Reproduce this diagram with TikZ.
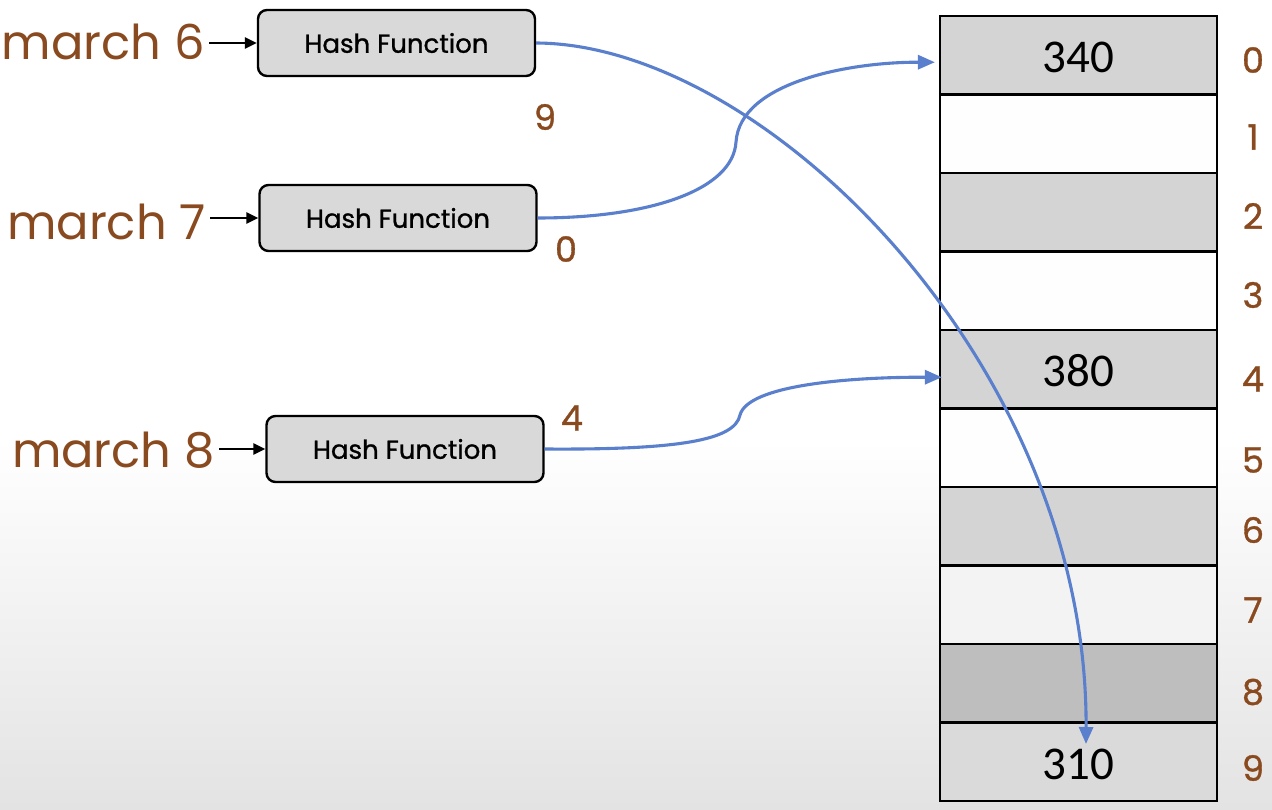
\documentclass[tikz,border=0pt]{standalone}
\usepackage{fontspec}
\newfontfamily\pop{Poppins}
\newfontfamily\popb{Poppins}[FakeBold=1]
\newfontfamily\carl{Carlito}
\usetikzlibrary{arrows.meta}
\definecolor{brn}{HTML}{8A4A1F}
\definecolor{lnk}{HTML}{5A7FCC}
\definecolor{cg}{HTML}{D4D4D4}
\definecolor{cw}{HTML}{FEFEFE}
\definecolor{cw7}{HTML}{F3F3F3}
\definecolor{cg8}{HTML}{BEBEBE}
\definecolor{cg9}{HTML}{DADADA}
\definecolor{hfill}{HTML}{D9D9D9}
\tikzset{
  hashbox/.style={draw=black, line width=2.4pt, fill=hfill, rounded corners=9pt,
    minimum width=277pt, minimum height=66pt, inner sep=0pt,
    font=\popb\fontsize{26}{26}\selectfont},
  inlabel/.style={text=brn, inner sep=4pt, font=\pop\fontsize{48}{48}\selectfont},
  cell/.style={draw=black, line width=2.2pt, minimum width=277pt, minimum height=78.5pt,
    inner sep=0pt, text height=35pt, text depth=0pt, font=\carl\fontsize{47}{47}\selectfont},
  idx/.style={text=brn, inner sep=0pt, font=\popb\fontsize{35}{35}\selectfont},
  hv/.style={text=brn, inner sep=0pt, font=\popb\fontsize{35}{35}\selectfont},
  inarr/.style={draw=black, line width=2.6pt, -{Triangle[length=12pt,width=11pt]}},
  conn/.style={draw=lnk, line width=3.1pt, -{Triangle[length=17pt,width=14pt]}}
}
\begin{document}
\begin{tikzpicture}[x=1pt,y=-1pt]
\useasboundingbox (0,0) rectangle (1272,810);
\fill[white] (0,0) rectangle (1272,810);
\shade[top color=white, bottom color=black!11] (0,440) rectangle (1272,810);
% table
\foreach \i/\c/\t in {0/cg/340,1/cw/{},2/cg/{},3/cw/{},4/cg/380,5/cw/{},6/cg/{},7/cw7/{},8/cg8/{},9/cg9/310}{
  \node[cell, fill=\c] (r\i) at (1078.5, {16+78.5*\i+39.25}) {\t};
}
\foreach \i/\y in {0/60,1/137,2/216,3/295,4/379,5/460,6/530,7/610,8/692,9/768}{
  \node[idx] (n\i) at (1253,\y) {\i};
}
% hash boxes
\node[hashbox] (h1) at (396.5,43) {Hash Function};
\node[hashbox] (h2) at (398,218) {Hash Function};
\node[hashbox] (h3) at (405,449) {Hash Function};
% input labels
\node[inlabel, anchor=east] (m6) at (209,42) {march 6};
\node[inlabel, anchor=east] (m7) at (210,222) {march 7};
\node[inlabel, anchor=east] (m8) at (219,450) {march 8};
\draw[inarr] (m6.east |- h1.west) -- (h1.west);
\draw[inarr] (m7.east |- h2.west) -- (h2.west);
\draw[inarr] (m8.east |- h3.west) -- (h3.west);
% hash values
\node[hv] (v9) at (545,117) {9};
\node[hv] (v0) at (566,249) {0};
\node[hv] (v4) at (572,418) {4};
% connectors
\coordinate (t9) at (1086,744);
\draw[conn] (h1.east) .. controls (765,44) and (1088,365) .. (t9);
\draw[conn] (h2.east) .. controls (650,218) and (733,190) .. (736,142) .. controls (740,82) and (850,62) .. ([xshift=-4pt,yshift=-7pt]r0.west);
\draw[conn] (h3.east) .. controls (680,450) and (735,440) .. (740,415) .. controls (748,385) and (850,377) .. ([xshift=3pt,yshift=-8pt]r4.west);
\end{tikzpicture}
\end{document}
